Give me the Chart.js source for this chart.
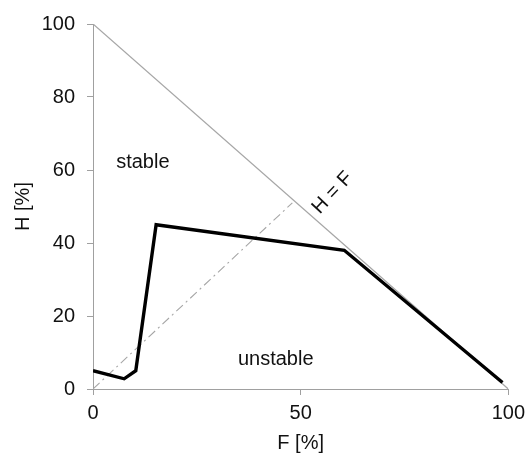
<!DOCTYPE html>
<html>
<head>
<meta charset="utf-8">
<script src="https://cdn.jsdelivr.net/npm/chart.js@4.4.1/dist/chart.umd.min.js"></script>
<style>
  html, body { margin: 0; padding: 0; background: #ffffff; }
  #wrap { width: 531px; height: 458px; position: relative; }
</style>
</head>
<body>
<div id="wrap"><canvas id="chart"></canvas></div>
<script>
// Stability boundary: F [%] vs H [%]
const boundaryF = [0, 7.5, 10.3, 15.2, 60.5, 98.6];
const boundaryH = [5, 2.8, 5, 45, 38, 1.8];

// Limit line H = 100 - F
const limitF = [0, 100];
const limitH = [100, 0];

// Reference line H = F
const diagF = [0, 48];
const diagH = [0, 51];

// Axis ticks
const xTicks = [0, 50, 100];
const yTicks = [0, 20, 40, 60, 80, 100];

// Region labels placed in data units
const regionLabels = [
  { text: 'stable', f: 12, h: 62, angle: 0 },
  { text: 'unstable', f: 44, h: 8.2, angle: 0 },
  { text: 'H = F', f: 57.7, h: 53.7, angle: -47 }
];

const toPoints = (xs, ys) => xs.map((x, i) => ({ x: x, y: ys[i] }));

const FONT = '"Liberation Sans", Arial, sans-serif';
const AXIS_GRAY = '#a0a0a0';
const TEXT = '#111111';

const labelPlugin = {
  id: 'regionLabels',
  afterDatasetsDraw(chart) {
    const { ctx, scales } = chart;
    ctx.save();
    ctx.fillStyle = TEXT;
    ctx.font = '20px ' + FONT;
    ctx.textAlign = 'center';
    ctx.textBaseline = 'middle';
    regionLabels.forEach(l => {
      const px = scales.x.getPixelForValue(l.f);
      const py = scales.y.getPixelForValue(l.h);
      ctx.save();
      ctx.translate(px, py);
      ctx.rotate(l.angle * Math.PI / 180);
      ctx.fillText(l.text, 0, 0);
      ctx.restore();
    });
    ctx.restore();
  }
};

new Chart(document.getElementById('chart'), {
  type: 'scatter',
  data: {
    datasets: [
      {
        data: toPoints(boundaryF, boundaryH),
        showLine: true,
        borderColor: '#000000',
        borderWidth: 3.4,
        pointRadius: 0,
        borderJoinStyle: 'miter',
        tension: 0
      },
      {
        data: toPoints(limitF, limitH),
        showLine: true,
        borderColor: '#a6a6a6',
        borderWidth: 1.3,
        pointRadius: 0
      },
      {
        data: toPoints(diagF, diagH),
        showLine: true,
        borderColor: '#a6a6a6',
        borderWidth: 1.1,
        borderDash: [9, 4, 2, 4],
        pointRadius: 0
      }
    ]
  },
  options: {
    responsive: true,
    maintainAspectRatio: false,
    animation: false,
    layout: { padding: { left: 0, right: 20, top: 24, bottom: 0 } },
    plugins: {
      legend: { display: false },
      tooltip: { enabled: false }
    },
    scales: {
      x: {
        type: 'linear',
        min: 0,
        max: 100,
        afterBuildTicks(scale) { scale.ticks = xTicks.map(v => ({ value: v })); },
        afterFit(scale) { scale.height = 69; },
        border: { display: true, color: AXIS_GRAY, width: 1 },
        grid: { drawOnChartArea: false, drawTicks: true, tickLength: 6, color: AXIS_GRAY },
        ticks: { color: TEXT, font: { family: FONT, size: 20 }, padding: 6, maxRotation: 0 },
        title: { display: true, text: 'F [%]', color: TEXT, font: { family: FONT, size: 20 }, padding: { top: 0, bottom: 3 } }
      },
      y: {
        type: 'linear',
        min: 0,
        max: 100,
        afterBuildTicks(scale) { scale.ticks = yTicks.map(v => ({ value: v })); },
        afterFit(scale) { scale.width = 93; },
        border: { display: true, color: AXIS_GRAY, width: 1 },
        grid: { drawOnChartArea: false, drawTicks: true, tickLength: 6, color: AXIS_GRAY },
        ticks: { color: TEXT, font: { family: FONT, size: 20 }, padding: 12 },
        title: { display: true, text: 'H [%]', color: TEXT, font: { family: FONT, size: 20 }, padding: { top: 11, bottom: 0 } }
      }
    }
  },
  plugins: [labelPlugin]
});
</script>
</body>
</html>
